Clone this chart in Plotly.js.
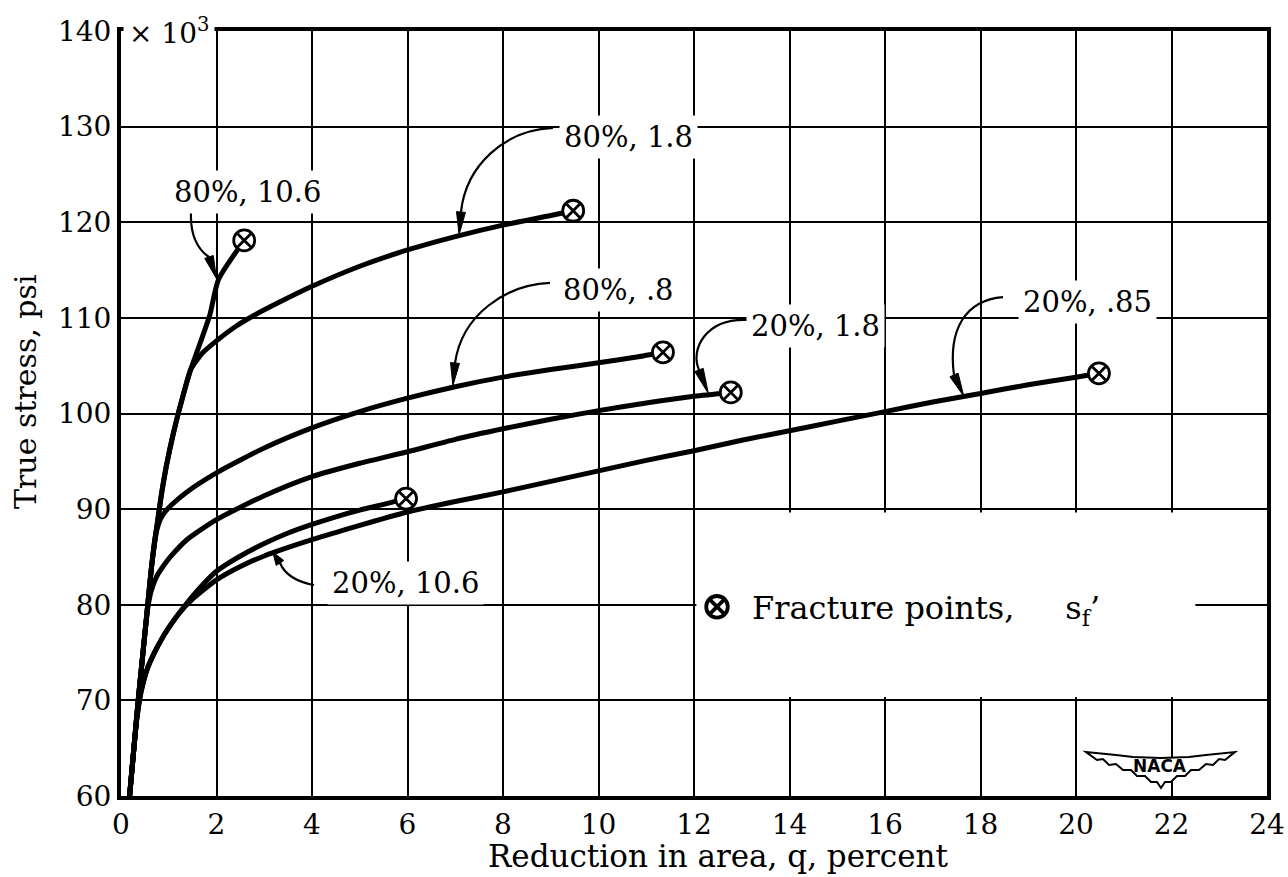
<!DOCTYPE html>
<html>
<head>
<meta charset="utf-8">
<script src="https://cdn.plot.ly/plotly-3.0.1.min.js"></script>
<style>html,body{margin:0;padding:0;background:#fff;}</style>
</head>
<body>
<div id="chart" style="width:1288px;height:877px;"></div>
<script>
// True stress against reduction in area; each curve is labelled "prestrain, strain rate".
const curveLabels = ['80%, 10.6', '80%, 1.8', '80%, .8', '20%, 1.8', '20%, 10.6', '20%, .85'];

// Fracture points (q percent, stress in 10^3 psi), one per curve in the order above
const fractureQ = [2.58, 9.47, 11.35, 12.77, 5.97, 20.48];
const fractureS = [118.1, 121.2, 106.4, 102.2, 91.1, 104.2];

// Curve readings up to (not including) the fracture point
const q80_106 = [0.18, 0.27, 0.36, 0.43, 0.50, 0.57, 0.64, 0.70, 0.76, 0.84, 0.95, 1.10, 1.28, 1.46, 1.66, 1.86, 2.04];
const s80_106 = [60.0, 65.0, 70.0, 73.5, 77.0, 80.5, 84.0, 86.5, 88.5, 91.3, 94.5, 98.0, 101.5, 104.6, 107.4, 110.3, 114.0];

const q80_18 = [0.18, 0.27, 0.36, 0.43, 0.50, 0.57, 0.64, 0.70, 0.76, 0.84, 0.95, 1.10, 1.28, 1.46, 1.70, 2.00, 2.40, 2.80, 3.30, 4.00, 5.00, 6.00, 7.00, 8.00, 9.00];
const s80_18 = [60.0, 65.0, 70.0, 73.5, 77.0, 80.5, 84.0, 86.5, 88.5, 91.3, 94.5, 98.0, 101.5, 104.6, 106.3, 107.6, 109.1, 110.3, 111.6, 113.3, 115.4, 117.1, 118.5, 119.7, 120.7];

const q80_08 = [0.18, 0.27, 0.36, 0.43, 0.50, 0.57, 0.64, 0.70, 0.75, 0.82, 0.92, 1.05, 1.38, 2.00, 3.00, 4.00, 5.00, 6.00, 7.00, 8.00, 9.00, 10.00, 10.80];
const s80_08 = [60.0, 65.0, 70.0, 73.5, 77.0, 80.5, 84.0, 86.3, 87.8, 88.9, 89.7, 90.4, 91.8, 93.8, 96.4, 98.5, 100.2, 101.6, 102.8, 103.8, 104.6, 105.3, 105.9];

const q20_18 = [0.18, 0.27, 0.36, 0.43, 0.50, 0.56, 0.63, 0.74, 0.88, 1.05, 1.38, 2.00, 3.00, 4.00, 5.00, 6.00, 7.00, 8.00, 9.00, 10.00, 11.00, 12.00];
const s20_18 = [60.0, 65.0, 70.0, 73.5, 77.0, 79.6, 81.4, 82.9, 84.0, 85.1, 86.8, 88.9, 91.4, 93.4, 94.8, 96.0, 97.3, 98.4, 99.4, 100.3, 101.1, 101.8];

const q20_106 = [0.18, 0.26, 0.33, 0.42, 0.55, 0.70, 0.85, 1.00, 1.20, 1.50, 2.00, 2.50, 3.00, 3.50, 4.00, 4.50, 5.00, 5.50];
const s20_106 = [60.0, 64.5, 68.0, 70.9, 73.3, 75.0, 76.4, 77.6, 79.0, 80.9, 83.5, 85.1, 86.4, 87.5, 88.4, 89.2, 89.9, 90.5];

const q20_085 = [0.18, 0.26, 0.33, 0.42, 0.55, 0.70, 0.85, 1.00, 1.20, 1.50, 2.00, 2.50, 3.00, 4.00, 5.00, 6.00, 7.00, 8.00, 9.00, 10.00, 11.00, 12.00, 13.00, 14.00, 15.00, 16.00, 17.00, 18.00, 19.00, 20.00];
const s20_085 = [60.0, 64.5, 68.0, 70.9, 73.3, 75.0, 76.4, 77.6, 79.0, 80.6, 82.6, 84.0, 85.1, 86.8, 88.3, 89.7, 90.8, 91.8, 92.9, 94.0, 95.1, 96.1, 97.2, 98.2, 99.2, 100.2, 101.2, 102.1, 103.0, 103.8];

const curveQ = [q80_106, q80_18, q80_08, q20_18, q20_106, q20_085];
const curveS = [s80_106, s80_18, s80_08, s20_18, s20_106, s20_085];

// Axis ticks
const qTicks = [0, 2, 4, 6, 8, 10, 12, 14, 16, 18, 20, 22, 24];
const sTicks = [60, 70, 80, 90, 100, 110, 120, 130, 140];
const sTickText = ['60', '70', '80', '90', '100', '110', '120', '130', '140'];

const SERIF = 'DejaVu Serif, Liberation Serif, serif';
const INK = '#000';
const NB = '\u00A0';

// Page geometry
const W = 1288, H = 877, M = {l: 121, r: 21, t: 31, b: 81};
const plotW = W - M.l - M.r, plotH = H - M.t - M.b;
const kx = plotW / 24, ky = plotH / 80;   // pixels per axis unit
const paperX = px => (px - M.l) / plotW;
const paperY = py => (M.t + plotH - py) / plotH;

// Label placement (data units) and curved leaders: start, two control points, head base, tip
const labelPos = [
  {x: 2.64, y: 123.2}, {x: 10.63, y: 128.9}, {x: 10.41, y: 112.9},
  {x: 14.55, y: 109.2}, {x: 5.965, y: 82.3}, {x: 20.25, y: 111.7}
];
const leaders = [
  {p0: [1.466, 120.97], c1: [1.445, 118.66], c2: [1.613, 117.10], p3: [1.843, 116.37], tip: [2.00, 114.1]},
  {p0: [9.047, 129.86], c1: [8.042, 129.65], c2: [7.225, 125.99], p3: [7.12, 121.07], tip: [7.08, 118.7]},
  {p0: [8.984, 113.65], c1: [8.042, 113.44], c2: [7.141, 110.30], p3: [6.995, 105.28], tip: [6.95, 102.9]},
  {p0: [13.131, 109.78], c1: [12.23, 109.99], c2: [11.916, 106.64], p3: [12.105, 104.55], tip: [12.30, 102.1]},
  {p0: [4.042, 82.07], c1: [3.707, 82.38], c2: [3.435, 83.11], p3: [3.33, 84.37], tip: [3.18, 85.5]},
  {p0: [18.471, 112.18], c1: [17.675, 111.87], c2: [17.319, 108.73], p3: [17.445, 104.03], tip: [17.65, 101.8]}
];

const traces = curveQ.map((q, i) => ({
  type: 'scatter', mode: 'lines', name: curveLabels[i], showlegend: false,
  x: q.concat([fractureQ[i]]), y: curveS[i].concat([fractureS[i]]),
  line: {color: INK, width: 5, shape: 'spline', smoothing: 0.6},
  hoverinfo: 'skip'
}));
traces.push({
  type: 'scatter', mode: 'markers',
  name: 'Fracture points,' + NB.repeat(5) + 's<sub>f</sub>\u2019',
  x: fractureQ, y: fractureS, showlegend: true,
  marker: {symbol: 'circle-x', size: 21, color: '#fff', line: {color: INK, width: 2.8}}
});

const pt = p => p[0].toFixed(4) + ',' + p[1].toFixed(4);

const shapes = [
  // clear panel behind the key
  {type: 'rect', xref: 'x', yref: 'y', x0: 12.05, x1: 22.5, y0: 70.35, y1: 89.65,
   fillcolor: '#fff', line: {width: 0}, layer: 'between'}
];
leaders.forEach(a => {
  shapes.push({
    type: 'path', xref: 'x', yref: 'y', layer: 'above',
    path: `M ${pt(a.p0)} C ${pt(a.c1)} ${pt(a.c2)} ${pt(a.p3)}`,
    line: {color: INK, width: 2.2}
  });
  // long narrow arrowhead from the head base to the tip
  const dx = (a.tip[0] - a.p3[0]) * kx, dy = (a.tip[1] - a.p3[1]) * ky;
  const len = Math.hypot(dx, dy), nx = -dy / len, ny = dx / len, half = 4.5;
  const b1 = [a.p3[0] + nx * half / kx, a.p3[1] + ny * half / ky];
  const b2 = [a.p3[0] - nx * half / kx, a.p3[1] - ny * half / ky];
  shapes.push({
    type: 'path', xref: 'x', yref: 'y', layer: 'above',
    path: `M ${pt(a.tip)} L ${pt(b1)} L ${pt(b2)} Z`,
    fillcolor: INK, line: {color: INK, width: 1}
  });
});

// NACA wing emblem, outline given in pixels about its centre
const emblemCentre = [1161, 770];
const wing = [[-75,-18],[-45,-15],[-28,-13],[0,-12],[28,-13],[45,-15],[74,-18],
  [64,-10],[58,-11],[52,-5],[45,-6],[38,0],[30,0],[24,6],[16,6],[10,12],[4,12],[0,18],
  [-4,12],[-10,12],[-16,6],[-24,6],[-30,0],[-38,0],[-45,-6],[-52,-5],[-58,-11],[-64,-10]];
const toPaper = (dx, dy) => [paperX(emblemCentre[0] + dx), paperY(emblemCentre[1] + dy)];
shapes.push({
  type: 'path', xref: 'paper', yref: 'paper', layer: 'above',
  path: wing.map((p, i) => (i ? 'L ' : 'M ') + toPaper(p[0], p[1]).map(v => v.toFixed(5)).join(',')).join(' ') + ' Z',
  fillcolor: '#fff', line: {color: INK, width: 2}
});

const annotations = labelPos.map((p, i) => ({
  x: p.x, y: p.y, xref: 'x', yref: 'y', text: curveLabels[i], showarrow: false,
  font: {family: SERIF, size: 29, color: INK}, bgcolor: '#fff', borderpad: 4
}));
// multiplier written after the top stress tick
annotations.push({
  xref: 'paper', yref: 'paper', x: 0, y: 1, xanchor: 'left', yanchor: 'middle', xshift: 2,
  text: '\u00D7 10<sup>3</sup>', showarrow: false, bgcolor: '#fff', borderpad: 5,
  font: {family: SERIF, size: 28, color: INK}
});
const naca = toPaper(-1, -4);
annotations.push({
  xref: 'paper', yref: 'paper', x: naca[0], y: naca[1], xanchor: 'center', yanchor: 'middle',
  text: '<b>NACA</b>', showarrow: false,
  font: {family: 'DejaVu Sans, Liberation Sans, sans-serif', size: 17, color: INK}
});
// axis titles
annotations.push({
  xref: 'paper', yref: 'paper', x: paperX(25), y: paperY(392),
  xanchor: 'center', yanchor: 'middle', textangle: -90, showarrow: false,
  text: 'True stress, psi', font: {family: SERIF, size: 30, color: INK}
});
annotations.push({
  xref: 'paper', yref: 'paper', x: paperX(718), y: paperY(856),
  xanchor: 'center', yanchor: 'middle', showarrow: false,
  text: 'Reduction in area, q, percent', font: {family: SERIF, size: 31, color: INK}
});

const axisCommon = {
  showgrid: true, gridcolor: INK, gridwidth: 2, zeroline: false,
  showline: true, mirror: true, linecolor: INK, linewidth: 4, ticks: '',
  tickfont: {family: SERIF, size: 28, color: INK}, fixedrange: true
};

const layout = {
  width: W, height: H, margin: M, paper_bgcolor: '#fff', plot_bgcolor: '#fff',
  showlegend: true,
  legend: {x: paperX(682), y: paperY(607), xanchor: 'left', yanchor: 'middle',
           itemwidth: 60, bgcolor: 'rgba(0,0,0,0)', font: {family: SERIF, size: 32, color: INK}},
  xaxis: Object.assign({}, axisCommon, {
    range: [0, 24], tickvals: qTicks, ticktext: qTicks.map(String)
  }),
  yaxis: Object.assign({}, axisCommon, {
    range: [60, 140], tickvals: sTicks, ticktext: sTickText
  }),
  shapes: shapes,
  annotations: annotations
};

Plotly.newPlot('chart', traces, layout, {staticPlot: true, displayModeBar: false}).then(gd => {
  // the key symbol is capped in size by the legend; enlarge it to match the plotted markers
  gd.querySelectorAll('.legend .legendpoints path.scatterpts').forEach(p => {
    const t = p.getAttribute('transform') || '';
    p.setAttribute('transform', t + ' scale(1.35)');
  });
});
</script>
</body>
</html>
